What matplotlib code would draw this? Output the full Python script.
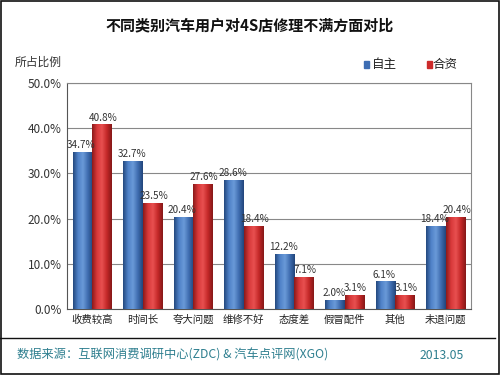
import matplotlib
matplotlib.use("Agg")
import matplotlib.pyplot as plt
import numpy as np
from matplotlib.patches import Rectangle
from matplotlib.lines import Line2D
from matplotlib.colors import LinearSegmentedColormap

plt.rcParams['font.family'] = ['Noto Sans CJK SC', 'DejaVu Sans']

categories = ["收费较高", "时间长", "夸大问题", "维修不好", "态度差", "假冒配件", "其他", "未退问题"]
zizhu = [34.7, 32.7, 20.4, 28.6, 12.2, 2.0, 6.1, 18.4]
hezi = [40.8, 23.5, 27.6, 18.4, 7.1, 3.1, 3.1, 20.4]
series_names = ["自主", "合资"]
yticks = [0, 10, 20, 30, 40, 50]

blue = "#3D6DB3"
red = "#CC2B2B"
blue_cmap = LinearSegmentedColormap.from_list("b", ["#24497F", "#4F82C8", "#6A9AD8", "#3F6DB0", "#22467C"])
red_cmap = LinearSegmentedColormap.from_list("r", ["#8C1A1A", "#D8393A", "#E85050", "#C42828", "#861818"])

fig = plt.figure(figsize=(5, 3.75), dpi=100)
fig.patch.set_facecolor("white")
ax = fig.add_axes([0.134, 0.176, 0.808, 0.603])

x = np.arange(len(categories))
w = 0.39
b1 = ax.bar(x - w/2, zizhu, w, color=blue, linewidth=0, zorder=3)
b2 = ax.bar(x + w/2, hezi, w, color=red, linewidth=0, zorder=3)

grad = np.linspace(0, 1, 64).reshape(1, -1)
for bars, cmap in ((b1, blue_cmap), (b2, red_cmap)):
    for r in bars:
        x0, h, bw = r.get_x(), r.get_height(), r.get_width()
        im = ax.imshow(grad, cmap=cmap, aspect="auto", extent=(x0, x0 + bw, 0, h), zorder=3.5)
        im.set_clip_path(r)

for xi, v in zip(x - w/2, zizhu):
    ax.text(xi - 0.02, v + 0.4, f"{v:.1f}%", ha="center", va="bottom", fontsize=7.2, color="#333333", zorder=5)
for xi, v in zip(x + w/2, hezi):
    ax.text(xi + 0.02, v + 0.4, f"{v:.1f}%", ha="center", va="bottom", fontsize=7.2, color="#333333", zorder=5)

ax.set_xlim(-0.5, len(categories) - 0.5)
ax.set_ylim(0, 50)
ax.set_yticks(yticks)
ax.set_yticklabels([f"{t:.1f}%" for t in yticks], fontsize=8.5, color="#333333")
ax.set_xticks(x)
ax.set_xticklabels(categories, fontsize=7.5, color="#222222")
ax.tick_params(axis="both", length=0, pad=4)
ax.yaxis.grid(True, color="#888888", linewidth=0.8, zorder=0)
for s in ["top", "right"]:
    ax.spines[s].set_color("#888888")
    ax.spines[s].set_linewidth(0.8)
ax.spines["left"].set_color("#555555")
ax.spines["bottom"].set_color("#555555")

fig.text(0.5, 0.933, "不同类别汽车用户对4S店修理不满方面对比", ha="center", va="center",
         fontsize=10.8, fontweight="bold", color="#111111")
fig.text(0.03, 0.835, "所占比例", ha="left", va="center", fontsize=8.5, color="#333333")

# legend
fig.patches.append(Rectangle((0.727, 0.820), 0.010, 0.018, transform=fig.transFigure, color=blue))
fig.text(0.743, 0.829, series_names[0], ha="left", va="center", fontsize=9, color="#222222")
fig.patches.append(Rectangle((0.853, 0.820), 0.010, 0.018, transform=fig.transFigure, color=red))
fig.text(0.866, 0.829, series_names[1], ha="left", va="center", fontsize=9, color="#222222")

# separator and footer
fig.lines.append(Line2D([0.0, 0.99], [0.098, 0.098], transform=fig.transFigure, color="#111111", linewidth=1.0))
fig.text(0.034, 0.053, "数据来源：互联网消费调研中心(ZDC) & 汽车点评网(XGO)", ha="left", va="center",
         fontsize=8.8, color="#2E7F8F")
fig.text(0.928, 0.053, "2013.05", ha="right", va="center", fontsize=8.8, color="#2E7F8F")

# outer frame
fig.patches.append(Rectangle((0.002, 0.003), 0.996, 0.994, transform=fig.transFigure,
                             fill=False, edgecolor="#111111", linewidth=1.2))

fig.savefig("out.png", dpi=100)
